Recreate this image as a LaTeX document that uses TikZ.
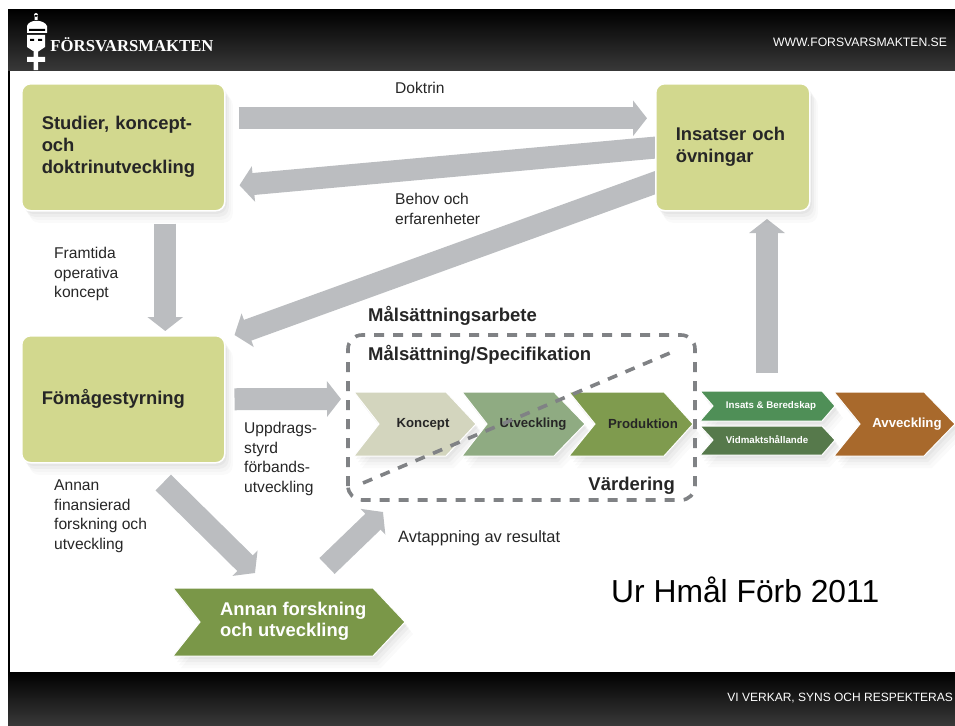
\documentclass[tikz,border=0pt]{standalone}
\usepackage{fontspec}
\setmainfont{Liberation Sans}
\newfontfamily\logofont{Liberation Serif}
\usetikzlibrary{arrows.meta,shadows,backgrounds}
\definecolor{boxgreen}{HTML}{D2D88E}
\definecolor{arrowgray}{HTML}{BBBDC0}
\definecolor{dashgray}{HTML}{808285}
\definecolor{konceptcol}{HTML}{D3D5BE}
\definecolor{utvcol}{HTML}{8FAB82}
\definecolor{prodcol}{HTML}{7F9B4E}
\definecolor{insatscol}{HTML}{4F8F57}
\definecolor{vidmcol}{HTML}{56794B}
\definecolor{avvcol}{HTML}{A8692C}
\definecolor{annancol}{HTML}{7A9748}
\begin{document}
\begin{tikzpicture}[x=1pt,y=-1pt]
\tikzstyle{bigarrow}=[draw=arrowgray, line width=22pt, -{Triangle[length=14pt,width=35pt]}]
\tikzstyle{softshadow}=[drop shadow={shadow xshift=2pt,shadow yshift=-3pt,opacity=.03,fill=black},
  drop shadow={shadow xshift=4pt,shadow yshift=-6pt,opacity=.03,fill=black},
  drop shadow={shadow xshift=6pt,shadow yshift=-9pt,opacity=.02,fill=black},
  drop shadow={shadow xshift=8pt,shadow yshift=-12pt,opacity=.02,fill=black}]
\tikzstyle{box}=[fill=boxgreen, draw=white, line width=1.5pt, rounded corners=9pt, softshadow, anchor=north west, minimum height=127pt, font=\bfseries\fontsize{18.4}{22}\selectfont, align=left, text=black!85]
\tikzstyle{label}=[anchor=north west, inner sep=0pt, align=left, font=\fontsize{15.6}{19.5}\selectfont, text=black!85]
\tikzstyle{head}=[anchor=west, inner sep=0pt, font=\bfseries\fontsize{18.5}{20}\selectfont, text=black!85]
\tikzstyle{chev}=[draw=white, line width=1pt, softshadow]
\tikzstyle{chevtext}=[inner sep=0pt, font=\bfseries\fontsize{13.2}{15}\selectfont, text=black!85]
\tikzstyle{smalltext}=[inner sep=0pt, text=white, font=\bfseries\fontsize{9.7}{11}\selectfont]
\tikzstyle{dashbox}=[draw=dashgray, line width=3.6pt, dash pattern=on 10pt off 9pt]
\useasboundingbox (0,0) rectangle (955,725);

% header and footer
\fill[black] (8,10) rectangle (10,672);
\shade[top color=black, bottom color=black!78] (8,10) rectangle (955,70);
\shade[top color=black, bottom color=black!78] (8,672) rectangle (955,725);
\draw node (logo) at (132,45) [text=white, inner sep=0pt] {\logofont\bfseries\fontsize{16.7}{18}\selectfont F\"ORSVARSMAKTEN};
\draw node (web) at (860,42) [text=white, inner sep=0pt] {\fontsize{12.2}{14}\selectfont WWW.FORSVARSMAKTEN.SE};
\draw node (motto) at (953,698) [anchor=east, text=white, inner sep=0pt] {\fontsize{12}{14}\selectfont VI VERKAR, SYNS OCH RESPEKTERAS};
% emblem
\fill[white] (36,15) circle (2) (34.5,15) rectangle (37.5,20);
\fill[white] (27,33) -- (27,26) .. controls (29,19) and (44,19) .. (47,26) -- (47,33) -- cycle;
\fill[white] (27,35) -- (45,35) -- (45,47) -- (36,53) -- (27,47) -- cycle;
\fill[white] (27,57) rectangle (45,62) (33.5,52) rectangle (38,70);
\fill[black] (29,29) rectangle (45,31) (30,39) rectangle (34,41) (38,39) rectangle (42,41);

\draw node (studier) at (21,83) [box, minimum width=203pt, text width=163pt] {Studier, koncept-\\och\\doktrinutveckling};
\draw node (insatser) at (655,83) [box, minimum width=154pt, text width=114pt] {Insatser och\\\"ovningar};
\draw node (formaga) at (21,335) [box, minimum width=203pt, text width=163pt] {F\"om\r{a}gestyrning};
\coordinate (mal) at (341,399);
\coordinate (ovre) at (383,512);
\coordinate (nedre) at (255,573);
\coordinate (start) at (327,566);
\coordinate (slut) at (767,219);
\coordinate (ut) at (767,373);
% arrows
\begin{scope}[on background layer]
\draw[bigarrow] ([xshift=13pt,yshift=29pt]studier.east) -- ([xshift=-8pt,yshift=29pt]insatser.west);
\draw[bigarrow] ([xshift=4pt,yshift=0pt]insatser.west) -- ([xshift=14pt,yshift=-38pt]studier.east);
\draw[bigarrow] ([xshift=4pt,yshift=-34pt]insatser.west) -- ([xshift=9pt]formaga.north east);
\draw[bigarrow] ([xshift=42pt,yshift=-12pt]studier.south) -- ([xshift=42pt,yshift=4pt]formaga.north);
\draw[bigarrow] ([xshift=9pt]formaga.east) -- (mal);
\draw[bigarrow] (ut) -- (slut);
\draw[bigarrow] ([xshift=40pt,yshift=-19pt]formaga.south) -- (nedre);
\draw[bigarrow] (start) -- (ovre);
\end{scope}

% chain
\draw[chev, fill=konceptcol] (354,392) -- (446,392) -- (476,424) -- (446,456) -- (354,456) -- (379,424) -- cycle;
\draw[chev, fill=utvcol] (462,392) -- (554,392) -- (585,424) -- (554,456) -- (462,456) -- (487,424) -- cycle;
\draw[chev, fill=prodcol] (569,392) -- (664,392) -- (693,424) -- (664,456) -- (569,456) -- (595,424) -- cycle;
\draw[chev, fill=insatscol] (700,391) -- (822,391) -- (835,406) -- (822,421) -- (700,421) -- (713,406) -- cycle;
\draw[chev, fill=vidmcol] (700,426) -- (822,426) -- (835,440) -- (822,455) -- (700,455) -- (713,440) -- cycle;
\draw[chev, fill=avvcol] (834,392) -- (924,392) -- (955,424) -- (924,456) -- (834,456) -- (860,424) -- cycle;
\draw[chev, fill=annancol] (173,588) -- (373,588) -- (405,622) -- (373,656) -- (173,656) -- (200,622) -- cycle;
\draw node (koncept) at (423,424) [chevtext] {Koncept};
\draw node (utv) at (533,424) [chevtext] {Utveckling};
\draw node (prod) at (643,424) [chevtext] {Produktion};
\draw node (insats) at (771,406) [smalltext] {Insats \& Beredskap};
\draw node (vidm) at (767,440) [smalltext] {Vidmaktsh\r{a}llande};
\draw node (avv) at (907,424) [chevtext, text=white] {Avveckling};
\draw node (annan) at (220,621) [anchor=west, inner sep=0pt, align=left, text=white, font=\bfseries\fontsize{18.4}{21}\selectfont] {Annan forskning\\och utveckling};

% dashed frame
\draw[dashbox, rounded corners=14pt] (348,500) -- (348,335) -- (695,335) -- (695,500) -- cycle;
\draw[dashbox] (363,483) -- (677,350);

% labels
\draw node (doktrin) at (395,82) [label] {Doktrin};
\draw node (behov) at (395,193) [label] {Behov och\\erfarenheter};
\draw node (framtida) at (54,247) [label] {Framtida\\operativa\\koncept};
\draw node (uppdrag) at (244,422) [label] {Uppdrags-\\styrd\\f\"orbands-\\utveckling};
\draw node (finans) at (54,480) [label] {Annan\\finansierad\\forskning och\\utveckling};
\draw node (avtapp) at (398,530) [label, font=\fontsize{16.4}{19.5}\selectfont] {Avtappning av resultat};
\draw node (malarbete) at (368,316) [head] {M\r{a}ls\"attningsarbete};
\draw node (malspec) at (368,355) [head] {M\r{a}ls\"attning/Specifikation};
\draw node (varde) at (675,486) [head, anchor=east] {V\"ardering};
\draw node (kalla) at (611,590) [anchor=west, inner sep=0pt, font=\fontsize{31.8}{36}\selectfont] {Ur Hm\r{a}l F\"orb 2011};
\end{tikzpicture}
\end{document}
